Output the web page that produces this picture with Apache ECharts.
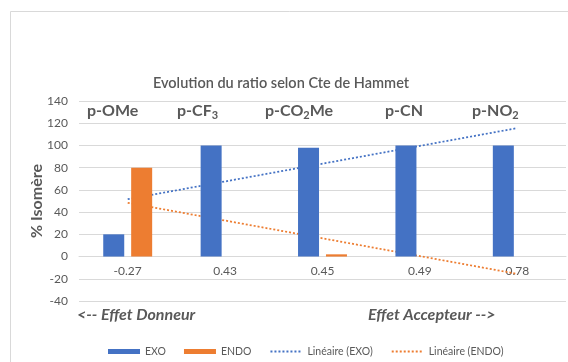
<!DOCTYPE html>
<html>
<head>
<meta charset="utf-8">
<script src="https://cdn.jsdelivr.net/npm/echarts@6/dist/echarts.min.js"></script>
<style>
  html, body { margin: 0; padding: 0; background: #fff; }
  #chart { width: 568px; height: 362px; }
</style>
</head>
<body>
<div id="chart"></div>
<script>
// Hammett constants (category axis) and isomer percentages
const sigmaLabels = ['-0.27', '0.43', '0.45', '0.49', '0.78'];
const exoValues = [20, 100, 98, 100, 100];
const endoValues = [80, 0, 2, 0, 0];
// Linear trendline values at the first and last category
const exoTrend = [51.6, 115.6];
const endoTrend = [48.4, -15.6];
// Value axis range
const yMin = -40;
const yMax = 140;
const yStep = 20;

const FONT = 'Lato, "Open Sans", sans-serif';
const GREY = '#595959';
const BLUE = '#4472C4';
const ORANGE = '#ED7D31';

const GRID = { left: 79, right: 2, top: 101, bottom: 61 };
const gridHeight = 362 - GRID.top - GRID.bottom;
// lift the category axis from the bottom edge up to the zero line
const zeroOffset = -((0 - yMin) / (yMax - yMin)) * gridHeight;

const chart = echarts.init(document.getElementById('chart'), null, { renderer: 'canvas' });

const last = sigmaLabels.length - 1;

function subLabel(left, text) {
  return {
    type: 'text',
    left: left,
    top: 103,
    z: 10,
    style: {
      text: text,
      rich: {
        b: { fontFamily: FONT, fontSize: 16, fontWeight: 'bold', fill: GREY, lineHeight: 20 },
        s: { fontFamily: FONT, fontSize: 11, fontWeight: 'bold', fill: GREY, lineHeight: 10, verticalAlign: 'bottom' }
      }
    }
  };
}

chart.setOption({
  animation: false,
  backgroundColor: '#fff',
  textStyle: { fontFamily: FONT },
  title: {
    text: 'Evolution du ratio selon Cte de Hammet',
    left: 276,
    textAlign: 'center',
    top: 71,
    textStyle: { fontFamily: FONT, fontSize: 14.5, fontWeight: 600, color: GREY }
  },
  grid: GRID,
  legend: {
    left: 108,
    top: 346,
    padding: 0,
    itemWidth: 32,
    itemHeight: 5,
    itemGap: 18,
    textStyle: { fontFamily: FONT, fontSize: 10.5, color: GREY },
    data: [
      { name: 'EXO', icon: 'rect' },
      { name: 'ENDO', icon: 'rect' },
      { name: 'Linéaire (EXO)', itemStyle: { opacity: 0 } },
      { name: 'Linéaire (ENDO)', itemStyle: { opacity: 0 } }
    ]
  },
  xAxis: {
    type: 'category',
    data: sigmaLabels,
    offset: zeroOffset,
    axisLine: { onZero: false, lineStyle: { color: '#D9D9D9', width: 1 } },
    axisTick: { show: false },
    axisLabel: { color: GREY, fontSize: 12, fontFamily: FONT, margin: 9 }
  },
  yAxis: {
    type: 'value',
    min: yMin,
    max: yMax,
    interval: yStep,
    name: '% Isomère',
    nameLocation: 'middle',
    nameGap: 34,
    nameMoveOverlap: false,
    nameRotate: 90,
    nameTextStyle: { fontFamily: FONT, fontSize: 16, fontWeight: 'bold', color: GREY },
    axisLine: { show: false },
    axisTick: { show: false },
    axisLabel: { color: GREY, fontSize: 12, fontFamily: FONT, margin: 11 },
    splitLine: { lineStyle: { color: '#D9D9D9', width: 1 } }
  },
  series: [
    {
      name: 'EXO',
      type: 'bar',
      data: exoValues,
      barWidth: 21,
      barGap: '33%',
      z: 3,
      itemStyle: { color: BLUE }
    },
    {
      name: 'ENDO',
      type: 'bar',
      data: endoValues,
      barWidth: 21,
      barGap: '33%',
      z: 3,
      itemStyle: { color: ORANGE }
    },
    {
      name: 'Linéaire (EXO)',
      type: 'line',
      data: [[0, exoTrend[0]], [last, exoTrend[1]]],
      symbol: 'none',
      z: 1,
      itemStyle: { color: BLUE },
      lineStyle: { color: BLUE, width: 1.75, type: [2, 2] }
    },
    {
      name: 'Linéaire (ENDO)',
      type: 'line',
      data: [[0, endoTrend[0]], [last, endoTrend[1]]],
      symbol: 'none',
      z: 1,
      itemStyle: { color: ORANGE },
      lineStyle: { color: ORANGE, width: 1.75, type: [2, 2] }
    }
  ],
  graphic: [
    {
      type: 'rect',
      shape: { x: 10.5, y: 11.5, width: 600, height: 400 },
      style: { fill: 'none', stroke: '#D9D9D9', lineWidth: 1 },
      z: -1
    },
    subLabel(87, '{b|p-OMe}'),
    subLabel(177, '{b|p-CF}{s|3}'),
    subLabel(265, '{b|p-CO}{s|2}{b|Me}'),
    subLabel(385, '{b|p-CN}'),
    subLabel(472, '{b|p-NO}{s|2}'),
    {
      type: 'text',
      left: 77,
      top: 307,
      style: {
        text: '<-- Effet Donneur',
        fontFamily: FONT, fontSize: 16, fontWeight: 'bold', fontStyle: 'italic', fill: GREY
      }
    },
    {
      type: 'text',
      left: 368,
      top: 307,
      style: {
        text: 'Effet Accepteur -->',
        fontFamily: FONT, fontSize: 16, fontWeight: 'bold', fontStyle: 'italic', fill: GREY
      }
    }
  ]
});
</script>
</body>
</html>
